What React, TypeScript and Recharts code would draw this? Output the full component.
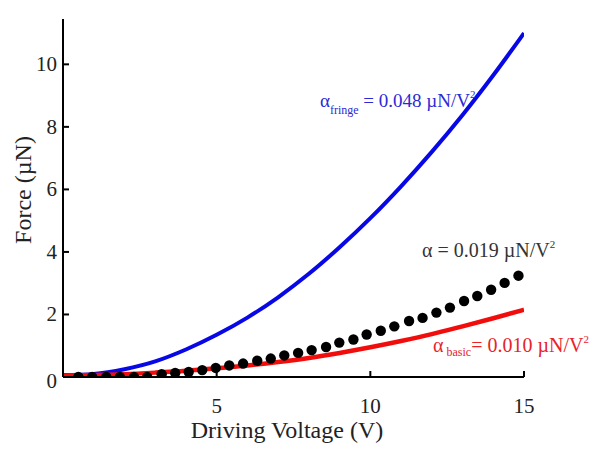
import React from 'react';
import { ComposedChart, Line, Scatter, XAxis, YAxis, ReferenceDot } from 'recharts';

const curveVoltage = [0, 1, 2, 3, 4, 5, 6, 7, 8, 9, 10, 11, 12, 13, 14, 15];
const fringeForce = [0.06, 0.1, 0.25, 0.5, 0.88, 1.35, 1.9, 2.55, 3.3, 4.15, 5.08, 6.1, 7.2, 8.38, 9.65, 11.0];
const basicForce = [0.05, 0.06, 0.09, 0.14, 0.2, 0.28, 0.37, 0.48, 0.61, 0.77, 0.95, 1.15, 1.37, 1.62, 1.88, 2.15];

const measuredVoltage = [
  0.5, 0.95, 1.41, 1.85, 2.31, 2.74, 3.21, 3.65, 4.09, 4.53, 4.97, 5.41, 5.86, 6.32, 6.76, 7.2, 7.65,
  8.09, 8.56, 8.99, 9.45, 9.88, 10.34, 10.78, 11.26, 11.7, 12.15, 12.59, 13.05, 13.48, 13.93, 14.37, 14.82,
];
const measuredForce = [
  0.0, 0.0, 0.0, 0.0, 0.0, 0.0, 0.09, 0.13, 0.16, 0.22, 0.29, 0.37, 0.43, 0.52, 0.59, 0.69, 0.77,
  0.86, 0.96, 1.1, 1.2, 1.36, 1.48, 1.62, 1.79, 1.89, 2.06, 2.22, 2.43, 2.59, 2.79, 3.01, 3.24,
];

const xTicks = [5, 10, 15];
const yTicks = [0, 2, 4, 6, 8, 10];

const fringeData = curveVoltage.map((v, i) => ({ v, f: fringeForce[i] }));
const basicData = curveVoltage.map((v, i) => ({ v, f: basicForce[i] }));
const measuredData = measuredVoltage.map((v, i) => ({ v, f: measuredForce[i] }));

const FONT = '"Liberation Serif", "Times New Roman", serif';
const BLUE = '#0808e6';
const RED = '#f20d0d';

const XTick = (props: any) => {
  const { x, y, payload } = props;
  return (
    <g>
      <line x1={x} x2={x} y1={y} y2={y - 6} stroke="#000" strokeWidth={2} />
      <text x={x} y={y + 36} textAnchor="middle" fontFamily={FONT} fontSize={21} fill="#222">
        {payload.value}
      </text>
    </g>
  );
};

const YTick = (props: any) => {
  const { x, y, payload } = props;
  return (
    <g>
      <line x1={x} x2={x + 6} y1={y} y2={y} stroke="#000" strokeWidth={2} />
      <text x={x - 6} y={y + 7 + (payload.value === 0 ? 4 : 0)} textAnchor="end" fontFamily={FONT} fontSize={21} fill="#222">
        {payload.value}
      </text>
    </g>
  );
};

const makeAnno = (kind: string) => (p: any) => {
  const vb = p.viewBox || {};
  const x = vb.x ?? vb.cx ?? 0;
  const y = vb.y ?? vb.cy ?? 0;
  if (kind === 'fringe') {
    return (
      <text x={x} y={y} fontFamily={FONT} fontSize={19} fill="#2a2ad6">
        α<tspan fontSize={12} dy={7}>fringe</tspan>
        <tspan dy={-7}> = 0.048 µN/V</tspan>
        <tspan fontSize={11} dy={-9}>2</tspan>
      </text>
    );
  }
  if (kind === 'basic') {
    return (
      <text x={x} y={y} fontFamily={FONT} fontSize={20} fill="#e8232a">
        α<tspan fontSize={12} dy={4}> basic</tspan>
        <tspan dy={-4}>= 0.010 µN/V</tspan>
        <tspan fontSize={11} dy={-9}>2</tspan>
      </text>
    );
  }
  return (
    <text x={x} y={y} fontFamily={FONT} fontSize={20} fill="#333">
      α = 0.019 µN/V<tspan fontSize={11} dy={-9}>2</tspan>
    </text>
  );
};

export default function App() {
  return (
    <div style={{ position: 'absolute', left: 0, top: 0, width: 600, height: 451, background: '#fff' }}>
      <ComposedChart width={600} height={451} margin={{ top: 19, right: 76, bottom: 0, left: 0 }}>
        <XAxis
          type="number"
          dataKey="v"
          domain={[0, 15]}
          ticks={xTicks}
          allowDataOverflow
          height={74}
          tickSize={0}
          tickMargin={0}
          tickLine={false}
          axisLine={{ stroke: '#000', strokeWidth: 2 }}
          tick={<XTick />}
          label={{
            content: () => (
              <text x={287} y={438} textAnchor="middle" fontFamily={FONT} fontSize={24} fill="#222">
                Driving Voltage (V)
              </text>
            ),
          }}
        />
        <YAxis
          type="number"
          dataKey="f"
          domain={[0, 11.45]}
          ticks={yTicks}
          allowDataOverflow
          width={63}
          tickSize={0}
          tickMargin={0}
          tickLine={false}
          axisLine={{ stroke: '#000', strokeWidth: 2 }}
          tick={<YTick />}
          label={{
            content: () => (
              <text x={31} y={190} textAnchor="middle" fontFamily={FONT} fontSize={24} fill="#222" transform="rotate(-90 31 190)">
                Force (µN)
              </text>
            ),
          }}
        />
        <Line data={fringeData} dataKey="f" type="monotone" stroke={BLUE} strokeWidth={4} dot={false} isAnimationActive={false} />
        <Line data={basicData} dataKey="f" type="monotone" stroke={RED} strokeWidth={4.5} dot={false} isAnimationActive={false} />
        <Scatter data={measuredData} dataKey="f" fill="#000" isAnimationActive={false}
          shape={(p: any) => <circle cx={p.cx} cy={p.cy} r={5.2} fill="#000" />} />
        <ReferenceDot x={8.36} y={8.63} r={0} fill="none" stroke="none" ifOverflow="visible" label={makeAnno('fringe')} />
        <ReferenceDot x={11.68} y={3.83} r={0} fill="none" stroke="none" ifOverflow="visible" label={makeAnno('alpha')} />
        <ReferenceDot x={12.04} y={0.79} r={0} fill="none" stroke="none" ifOverflow="visible" label={makeAnno('basic')} />
      </ComposedChart>
    </div>
  );
}
